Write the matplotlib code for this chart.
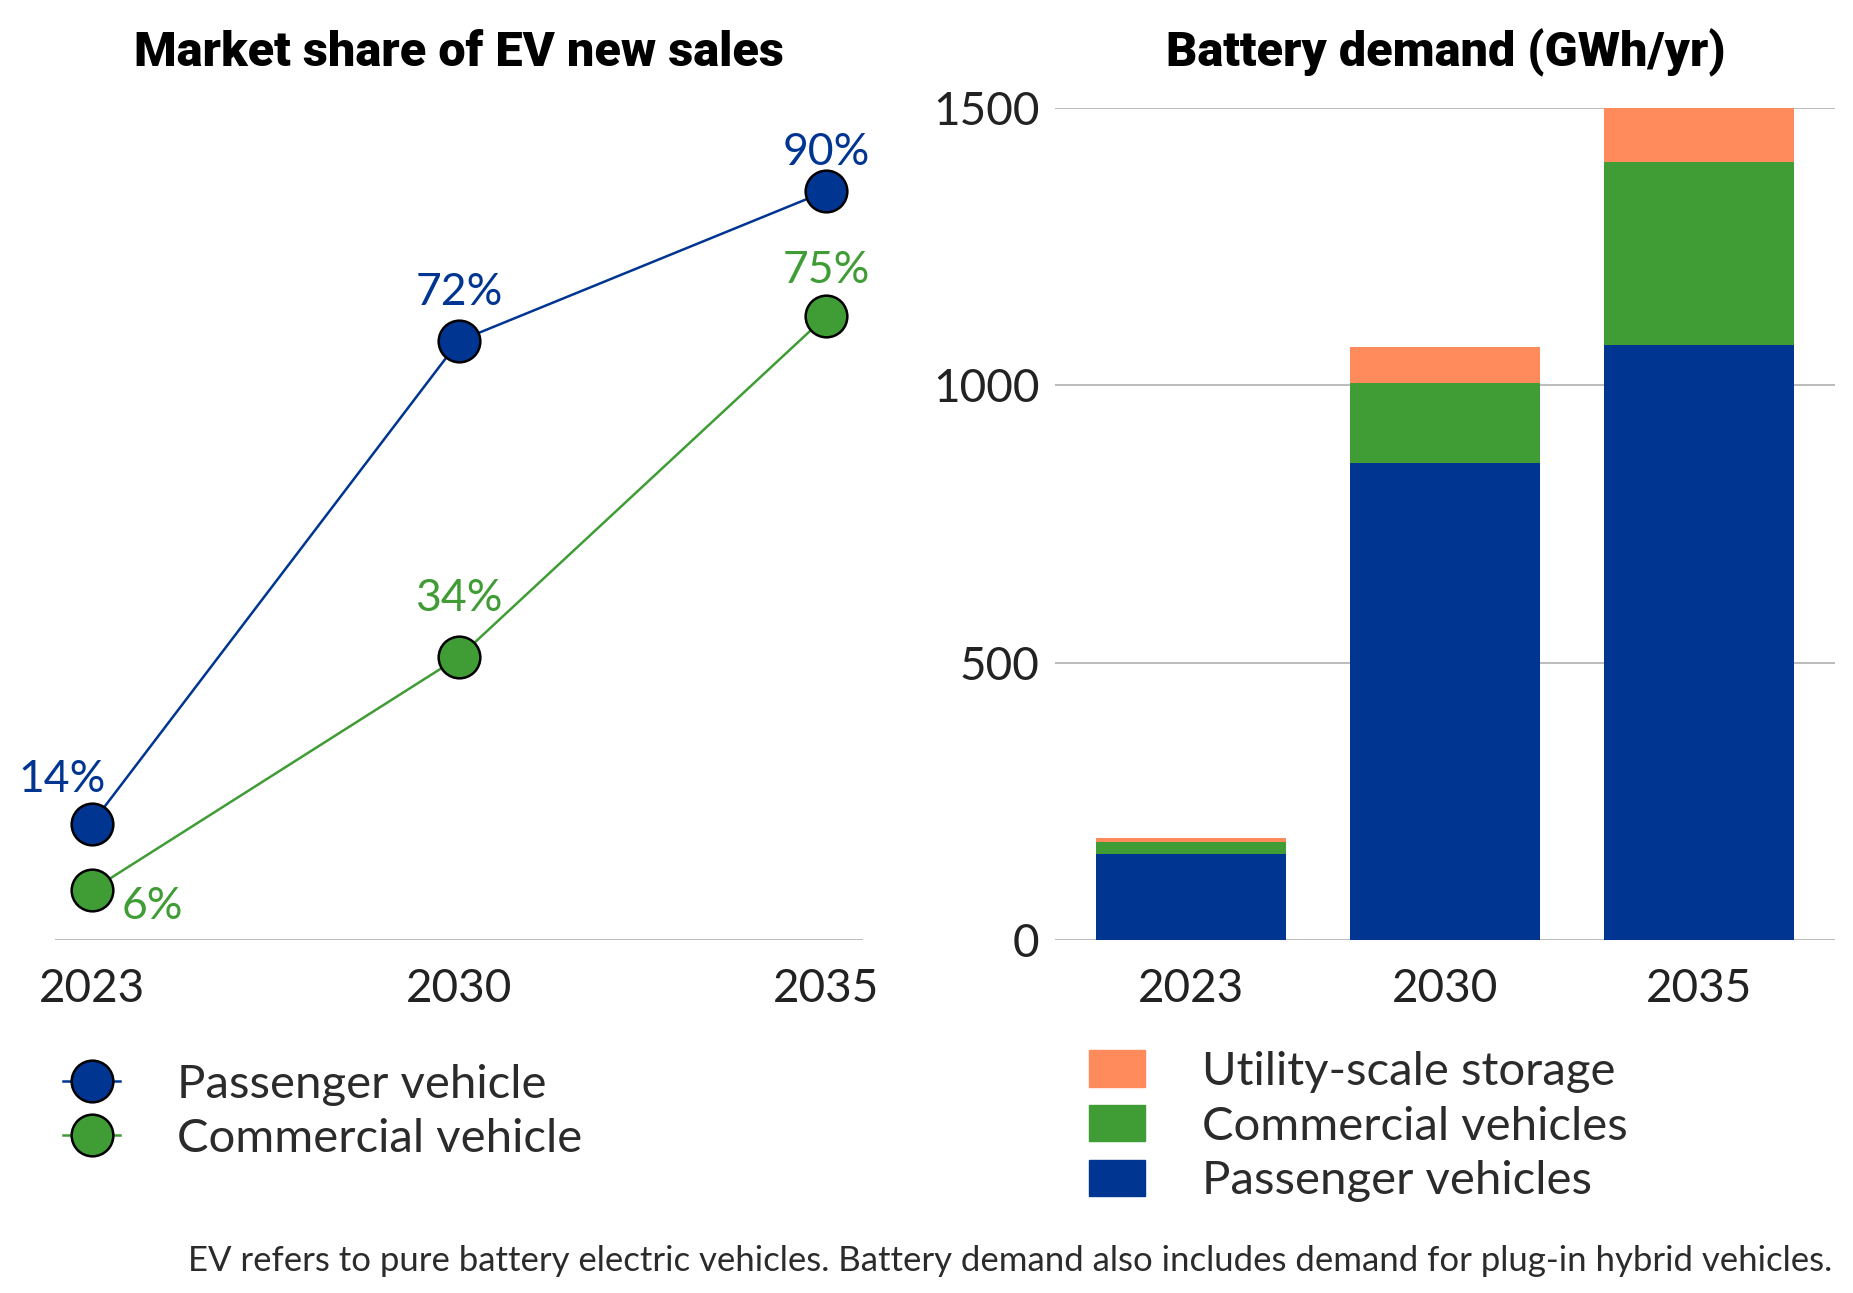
import matplotlib.pyplot as plt
import numpy as np
from matplotlib.patches import Patch
from matplotlib.lines import Line2D

years = ["2023", "2030", "2035"]

# market share of EV new sales (%)
share_passenger = [14, 72, 90]
share_commercial = [6, 34, 75]

# battery demand (GWh/yr)
demand_passenger = [155, 860, 1072]
demand_commercial = [21, 144, 330]
demand_storage = [8, 65, 98]

BLUE = "#003591"
GREEN = "#409c35"
ORANGE = "#ff8a5c"
GRID = "#b0b0b0"
TEXT = "#2b2b2b"

plt.rcParams["font.family"] = ["Lato", "DejaVu Sans"]

fig = plt.figure(figsize=(18.53, 12.93), dpi=100)

# ---- left: market share ----
ax1 = fig.add_axes([0.0297, 0.273, 0.436, 0.6435])
x = np.arange(len(years))
ax1.plot(x, share_passenger, color=BLUE, lw=1.8, marker="o", ms=30,
         mfc=BLUE, mec="black", mew=1.8, zorder=3)
ax1.plot(x, share_commercial, color=GREEN, lw=1.8, marker="o", ms=30,
         mfc=GREEN, mec="black", mew=1.8, zorder=3)

pass_offsets = [(-21, 32), (0, 35), (0, 28)]
comm_offsets = [(44, -12), (0, 42), (0, 33)]
for i, v in enumerate(share_passenger):
    ax1.annotate(f"{v}%", (x[i], v), xytext=pass_offsets[i], textcoords="offset points",
                 ha="center", va="center", fontsize=32, color=BLUE)
for i, v in enumerate(share_commercial):
    ax1.annotate(f"{v}%", (x[i], v), xytext=comm_offsets[i], textcoords="offset points",
                 ha="center", va="center", fontsize=32, color=GREEN)

ax1.set_xlim(-0.1, 2.1)
ax1.set_ylim(0, 100)
ax1.axhline(0, color=GRID, lw=1.2, zorder=1)
for s in ax1.spines.values():
    s.set_visible(False)
ax1.set_yticks([])
ax1.set_xticks(x)
ax1.set_xticklabels(years, fontsize=33, color="#222222")
ax1.tick_params(axis="x", length=0, pad=20)

h1 = [Line2D([0], [0], color=BLUE, lw=1.8, marker="o", ms=30, mfc=BLUE, mec="black", mew=1.8),
      Line2D([0], [0], color=GREEN, lw=1.8, marker="o", ms=30, mfc=GREEN, mec="black", mew=1.8)]
fig.legend(h1, ["Passenger vehicle", "Commercial vehicle"], loc="upper left",
           bbox_to_anchor=(0.0112, 0.210), frameon=False, fontsize=34,
           handlelength=1.2, handletextpad=1.2, labelspacing=0.25, labelcolor=TEXT)

# ---- right: battery demand ----
ax2 = fig.add_axes([0.5693, 0.273, 0.421, 0.6435])
w = 0.75
ax2.bar(x, demand_passenger, w, color=BLUE, zorder=2)
ax2.bar(x, demand_commercial, w, bottom=demand_passenger, color=GREEN, zorder=2)
bottom2 = np.array(demand_passenger) + np.array(demand_commercial)
ax2.bar(x, demand_storage, w, bottom=bottom2, color=ORANGE, zorder=2)

ax2.set_xlim(-0.535, 2.535)
ax2.set_ylim(0, 1500)
ax2.set_yticks([0, 500, 1000, 1500])
ax2.yaxis.grid(True, color=GRID, lw=1.2, zorder=0)
for s in ax2.spines.values():
    s.set_visible(False)
ax2.set_xticks(x)
ax2.set_xticklabels(years, fontsize=33, color="#222222")
ax2.tick_params(axis="y", length=0, pad=11, labelsize=33, labelcolor="#222222")
ax2.tick_params(axis="x", length=0, pad=20)

h2 = [Patch(color=ORANGE), Patch(color=GREEN), Patch(color=BLUE)]
fig.legend(h2, ["Utility-scale storage", "Commercial vehicles", "Passenger vehicles"],
           loc="upper left", bbox_to_anchor=(0.5646, 0.2205), frameon=False, fontsize=34,
           handlelength=1.2, handleheight=0.8, handletextpad=1.2, labelspacing=0.26,
           labelcolor=TEXT)

# titles
title_font = dict(family=["Roboto", "Lato", "DejaVu Sans"], fontsize=35, fontweight="black",
                  color="black", ha="center", va="center")
fig.text(0.2476, 0.959, "Market share of EV new sales", **title_font)
fig.text(0.780, 0.959, "Battery demand (GWh/yr)", **title_font)

fig.text(0.989, 0.025, "EV refers to pure battery electric vehicles. Battery demand also includes "
         "demand for plug-in hybrid vehicles.", ha="right", va="center", fontsize=25,
         color=TEXT)

fig.savefig("out.png", dpi=100)
